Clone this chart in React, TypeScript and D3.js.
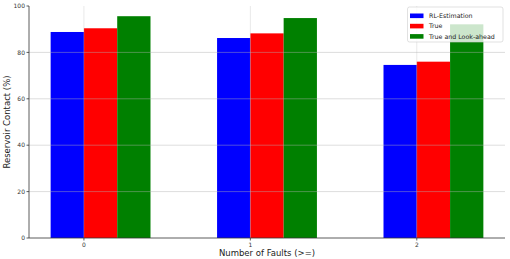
import React from "react";
import * as d3 from "d3";

const categories = ["0", "1", "2"];
const seriesNames = ["RL-Estimation", "True", "True and Look-ahead"];
const seriesColors = ["#0000ff", "#ff0000", "#008000"];
const rlEstimation = [88.8, 86.2, 74.6];
const trueValues = [90.4, 88.2, 76.0];
const lookAhead = [95.6, 94.8, 92.1];
const yTicks = [0, 20, 40, 60, 80, 100];

const W = 510;
const H = 259;
const left = 29;
const right = 505;
const top = 6;
const bottom = 238;
const barW = 0.2;

export default function App() {
  const series = [rlEstimation, trueValues, lookAhead];
  const x = d3.scaleLinear().domain([-0.33, 2.53]).range([left, right]);
  const y = d3.scaleLinear().domain([0, 100]).range([bottom, top]);
  const font = "DejaVu Sans, sans-serif";
  return (
    <svg width={W} height={H} style={{ position: "absolute", left: 0, top: 0 }} fontFamily={font}>
      <rect width={W} height={H} fill="#fff" />
      {series.map((vals, si) =>
        vals.map((v, ci) => {
          const x0 = x(ci - barW + si * barW);
          const x1 = x(ci + si * barW);
          return (
            <rect
              key={`${si}-${ci}`}
              x={x0}
              y={y(v)}
              width={x1 - x0}
              height={y(0) - y(v)}
              fill={seriesColors[si]}
            />
          );
        })
      )}
      {yTicks.slice(1, -1).map((t) => (
        <line key={"gy" + t} x1={left} x2={right} y1={y(t)} y2={y(t)} stroke="#b0b0b0" strokeOpacity={0.55} strokeWidth={0.8} />
      ))}
      {categories.map((c, i) => (
        <line key={"gx" + c} x1={x(i)} x2={x(i)} y1={top} y2={bottom} stroke="#b0b0b0" strokeOpacity={0.35} strokeWidth={0.8} />
      ))}
      <line x1={left} x2={left} y1={top} y2={bottom} stroke="#333" strokeWidth={0.8} />
      <line x1={left} x2={right} y1={bottom} y2={bottom} stroke="#333" strokeWidth={0.8} />
      {yTicks.map((t) => (
        <g key={"yt" + t}>
          <line x1={left - 2.5} x2={left} y1={y(t)} y2={y(t)} stroke="#333" strokeWidth={0.8} />
          <text x={left - 4} y={y(t)} dy="0.35em" textAnchor="end" fontSize={6} fill="#333">{t}</text>
        </g>
      ))}
      {categories.map((c, i) => (
        <g key={"xt" + c}>
          <line x1={x(i)} x2={x(i)} y1={bottom} y2={bottom + 2.5} stroke="#333" strokeWidth={0.8} />
          <text x={x(i)} y={bottom + 9} textAnchor="middle" fontSize={6} fill="#333">{c}</text>
        </g>
      ))}
      <text x={(left + right) / 2} y={256} textAnchor="middle" fontSize={8.5} fill="#222">Number of Faults (&gt;=)</text>
      <text transform={`translate(10,${(top + bottom) / 2}) rotate(-90)`} textAnchor="middle" fontSize={8.5} fill="#222">Reservoir Contact (%)</text>
      <g>
        <rect x={407.5} y={7} width={95.5} height={35} rx={2} fill="#fff" fillOpacity={0.8} stroke="#ccc" strokeWidth={0.6} />
        {seriesNames.map((n, i) => (
          <g key={n}>
            <rect x={410} y={13.5 + i * 10.3} width={13.5} height={4.6} fill={seriesColors[i]} />
            <text x={429} y={15.8 + i * 10.3} dy="0.35em" fontSize={6.3} fill="#222">{n}</text>
          </g>
        ))}
      </g>
    </svg>
  );
}
